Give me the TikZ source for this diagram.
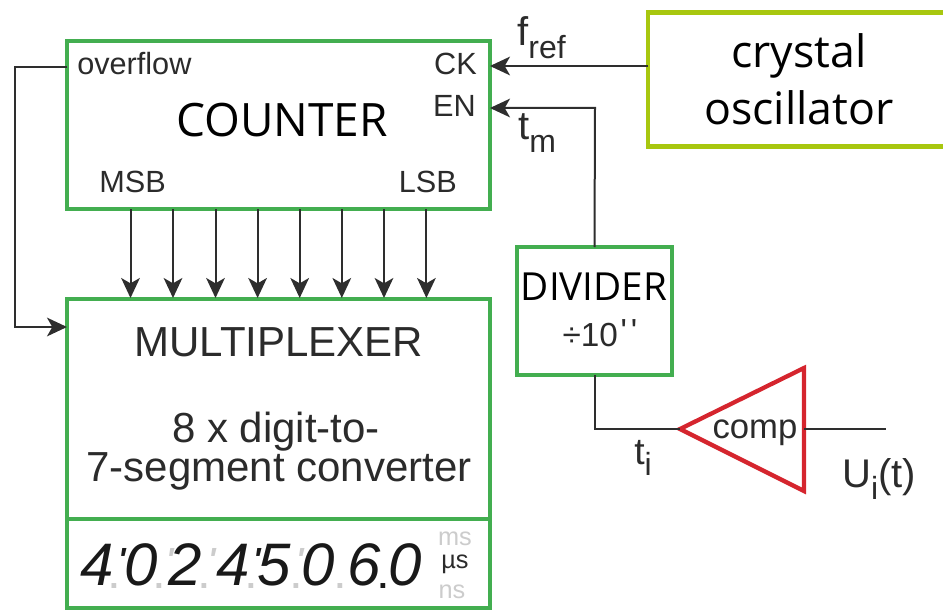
\documentclass[tikz,border=0pt]{standalone}
\usepackage{fontspec}
\setmainfont{Liberation Sans}
\newfontfamily\titlefont{Open Sans}
\newfontfamily\plainf{Liberation Sans}
\usetikzlibrary{arrows.meta}
\definecolor{boxgreen}{HTML}{43AE50}
\definecolor{limeg}{HTML}{A8C70F}
\definecolor{compred}{HTML}{D5252E}
\definecolor{wirec}{HTML}{2E2E2E}
\definecolor{txt}{HTML}{2B2B2B}
\definecolor{offseg}{HTML}{CCCCCC}
\newcommand{\fsz}[1]{\fontsize{#1}{#1}\selectfont}
\newcommand{\subs}[1]{\raisebox{-.32em}{\fsz{24}#1}}
\tikzset{
  gbox/.style={draw=boxgreen,line width=3.2pt,fill=white,outer sep=0pt,inner sep=0pt},
  wire/.style={draw=wirec,line width=1.5pt},
  arr/.style={wire,-{Stealth[length=15pt,width=14pt,inset=4pt]}},
  lbl/.style={text=txt,inner sep=0pt,font=\fsz{23}},
  ttl/.style={text=black,inner sep=0pt,font=\titlefont\fsz{#1}},
  big/.style={text=txt,inner sep=0pt,font=\fsz{31.5},align=center},
  dig/.style={inner sep=0pt,font=\itshape\fsz{45},text=black!90},
  sepon/.style={inner sep=0pt,font=\plainf\itshape\bfseries\fsz{24},text=black!90},
  sepoff/.style={inner sep=0pt,font=\plainf\itshape\bfseries\fsz{24},text=offseg},
  dotoff/.style={inner sep=0pt,font=\bfseries\fsz{25},text=offseg},
  doton/.style={inner sep=0pt,font=\bfseries\fsz{25},text=black!90},
}
\begin{document}
\begin{tikzpicture}[x=.75pt,y=-.75pt]
\useasboundingbox (0,0) rectangle (943,610);
\clip (0,0) rectangle (943,610);
% boxes
\node[gbox,minimum width=317.25pt,minimum height=126pt] (counter) at (278.5,125) {};
\node[gbox,minimum width=317.25pt,minimum height=165pt] (mux) at (278.5,409) {};
\node[gbox,minimum width=317.25pt,minimum height=66.75pt] (disp) at (278.5,563.5) {};
\node[gbox,minimum width=116.25pt,minimum height=96pt] (divider) at (594.5,311) {};
\node[draw=limeg,line width=3.4pt,fill=white,outer sep=0pt,inner sep=0pt,minimum width=228pt,minimum height=100.5pt] (xtal) at (800,79.5) {};
% comparator
\coordinate (tip) at (680,429);
\coordinate (tr) at (804,368);
\coordinate (br) at (804,491);
\coordinate (compout) at (804,429);
\coordinate (uend) at (886,429);
\coordinate (fold) at (15,0);
\draw[draw=compred,line width=3.2pt,line join=miter] (tip) -- (tr) -- (br) -- cycle;
% wires
\draw[arr] (xtal.west |- 0,66) -- (counter.east |- 0,66);
\draw[arr] (divider.north) -- (595,108) -- (counter.east |- 0,108);
\draw[wire] (divider.south) |- (tip);
\draw[wire] (compout) -- (uend);
\draw[arr] (counter.west |- 0,67) -| (fold |- 0,327) -- (mux.west |- 0,327);
\foreach \x in {130.5,173,215.5,257.6,299.7,341.8,384,426.4}
  \draw[arr] (\x,209) -- (\x,298);
% labels
\node[lbl,anchor=base west] (ovf) at (77,75) {overflow};
\node[lbl,anchor=base east] (ck) at (477,75) {CK};
\node[lbl,anchor=base east] (en) at (476,117) {EN};
\node[lbl,anchor=base west] (msb) at (99,192) {MSB};
\node[lbl,anchor=base east] (lsb) at (457,192) {LSB};
\node[ttl=34.5,anchor=base] (cntt) at (282,137) {COUNTER};
\node[big,anchor=base] (muxt) at (279,356) {MULTIPLEXER};
\node[big,anchor=base] (mux2) at (276,442) {8 x digit-to-};
\node[big,anchor=base] (mux3) at (279,481) {7-segment converter};
\node[ttl=29,anchor=base] (divt) at (594,300) {DIVIDER};
\node[lbl,anchor=base,font=\plainf\fsz{25}] (divn) at (600,346) {÷10\kern.08em\raisebox{.1em}{'\kern.12em'}};
\node[lbl,anchor=base,font=\fsz{26}] (compt) at (755,438) {comp};
\node[ttl=33.5,anchor=base] (x1) at (799,68) {crystal};
\node[ttl=33.5,anchor=base] (x2) at (799,125) {oscillator};
\node[lbl,anchor=base west,font=\fsz{30}] (fref) at (517,46) {f\subs{ref}};
\node[lbl,anchor=base west,font=\fsz{30}] (tm) at (518,140) {t\subs{m}};
\node[lbl,anchor=base west,font=\fsz{28}] (ti) at (634,464) {t\subs{i}};
\node[lbl,anchor=base west,font=\fsz{30}] (ui) at (842,487) {U\subs{i}(t)};
% readout
\foreach \n/\x/\d in {a/97/4,b/141/0,c/185/2,d/233/4,e/274/5,f/318/0,g/364/6,h/405/0}
  \node[dig] (d\n) at (\x,565) {\d};
\foreach \n/\x in {b/122,e/257}
  \node[sepon,anchor=base] (q\n) at (\x,570) {'};
\foreach \n/\x in {c/170,d/212,f/300}
  \node[sepoff,anchor=base] (q\n) at (\x,570) {'};
\foreach \n/\x in {a/114,b/159,c/204,d/251,e/296,f/340}
  \node[dotoff,anchor=base] (p\n) at (\x,588) {.};
\node[doton,anchor=base] (pg) at (383,588) {.};
\node[lbl,text=offseg,font=\fsz{19}] (ms) at (455,539) {ms};
\node[lbl,font=\fsz{19}] (us) at (455,564) {µs};
\node[lbl,text=offseg,font=\fsz{19}] (ns) at (452,592) {ns};
\end{tikzpicture}
\end{document}
